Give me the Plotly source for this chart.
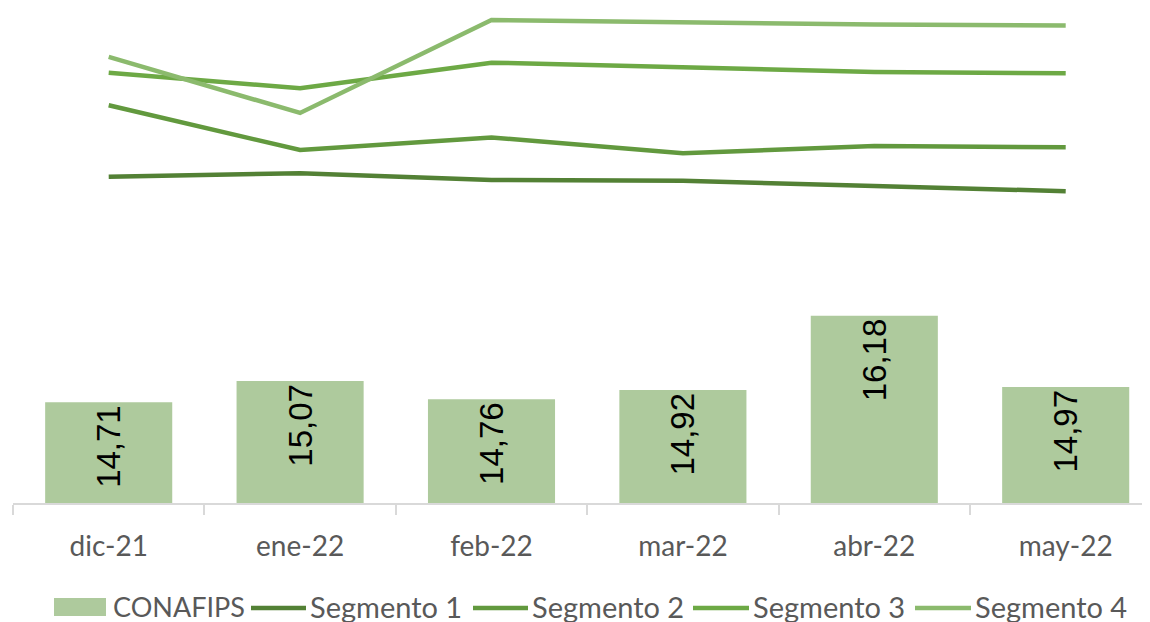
import plotly.graph_objects as go

categories = ["dic-21", "ene-22", "feb-22", "mar-22", "abr-22", "may-22"]
conafips = [14.71, 15.07, 14.76, 14.92, 16.18, 14.97]
segmento_1 = [16.55, 16.72, 16.38, 16.34, 16.08, 15.81]
segmento_2 = [20.17, 17.90, 18.54, 17.73, 18.10, 18.04]
segmento_3 = [21.82, 21.03, 22.33, 22.12, 21.86, 21.79]
segmento_4 = [22.62, 19.78, 24.49, 24.39, 24.26, 24.22]

bar_labels = [f"{v:.2f}".replace(".", ",") for v in conafips]

# the page body adds an 8px offset; layout is designed in screen pixels
OFF = 8
W, H = 1150, 622
ML, MR, MT, MB = 13 - OFF, 0, 10 - OFF, H - (503 - OFF)
plot_w = W - ML - MR
plot_h = H - MT - MB
cat_px = 191.4

BAR_COLOR = "#AECA9D"
line_specs = [
    ("Segmento 1", segmento_1, "#538135"),
    ("Segmento 2", segmento_2, "#62993E"),
    ("Segmento 3", segmento_3, "#6DA945"),
    ("Segmento 4", segmento_4, "#8BBA6D"),
]
TEXT_GREY = "#595959"
FONT = "Lato"

fig = go.Figure()
fig.add_trace(go.Bar(
    x=categories, y=conafips, name="CONAFIPS",
    marker=dict(color=BAR_COLOR, line=dict(width=0)),
    text=bar_labels, textposition="inside", insidetextanchor="end",
    textangle=-90,
    textfont=dict(family="Liberation Sans, Arial", size=33, color="#000000"),
    yaxis="y", showlegend=False,
))
for name, vals, col in line_specs:
    fig.add_trace(go.Scatter(
        x=categories, y=vals, name=name, mode="lines",
        line=dict(color=col, width=4.5),
        yaxis="y2", showlegend=False,
    ))

# custom legend (swatches + labels) placed below the axis, screen-pixel positions
def px_x(px):
    return (px - OFF - ML) / plot_w

def px_y(py):
    return (H - MB - (py - OFF)) / plot_h

legend_y = 606
shapes = []
annotations = []
legend_items = [("CONAFIPS", "bar", BAR_COLOR, 54, 106, 111, 27)]
starts = [(251, 306, 308), (473, 528, 530), (693, 749, 751), (915, 971, 973)]
for (name, _, col), (s0, s1, tx) in zip(line_specs, starts):
    legend_items.append((name, "line", col, s0, s1, tx, 29))

for name, kind, col, s0, s1, tx, fs in legend_items:
    if kind == "bar":
        shapes.append(dict(type="rect", xref="paper", yref="paper",
                           x0=px_x(s0), x1=px_x(s1), y0=px_y(legend_y + 10), y1=px_y(legend_y - 8),
                           fillcolor=col, line=dict(width=0)))
    else:
        shapes.append(dict(type="line", xref="paper", yref="paper",
                           x0=px_x(s0), x1=px_x(s1), y0=px_y(legend_y + 2), y1=px_y(legend_y + 2),
                           line=dict(color=col, width=4.5)))
    annotations.append(dict(text=name, xref="paper", yref="paper", x=px_x(tx), y=px_y(legend_y),
                            xanchor="left", yanchor="middle", showarrow=False,
                            font=dict(family=FONT, size=fs, color=TEXT_GREY)))

fig.update_layout(
    width=W, height=H,
    margin=dict(l=ML, r=MR, t=MT, b=MB, autoexpand=False),
    paper_bgcolor="white", plot_bgcolor="white",
    bargap=0.336,
    showlegend=False,
    shapes=shapes,
    annotations=annotations,
    xaxis=dict(range=[-0.5, -0.5 + plot_w / cat_px],
               showline=True, linecolor="#D9D9D9", linewidth=1.5,
               ticks="outside", tickson="boundaries", ticklen=10, tickcolor="#D9D9D9",
               tickwidth=1.5, ticklabelstandoff=18,
               tickfont=dict(family=FONT, size=28, color=TEXT_GREY),
               showgrid=False, zeroline=False),
    yaxis=dict(range=[13, 13 + plot_h / 58.9], visible=False, showgrid=False, zeroline=False),
    yaxis2=dict(range=[0, 25], overlaying="y", side="right", visible=False,
                showgrid=False, zeroline=False),
)

fig.write_html("out.html")
